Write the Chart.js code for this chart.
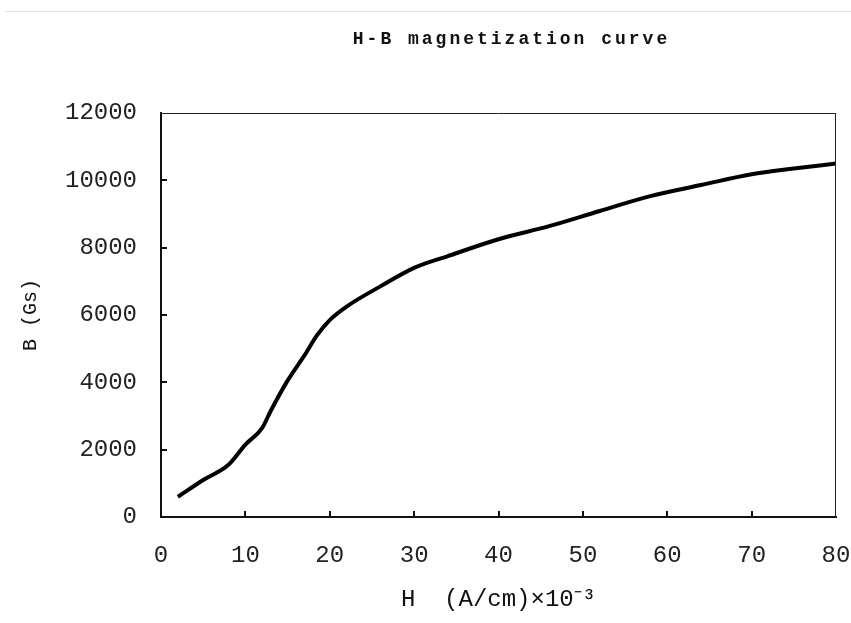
<!DOCTYPE html>
<html>
<head>
<meta charset="utf-8">
<script src="https://cdn.jsdelivr.net/npm/chart.js@4"></script>
<style>
  html, body { margin: 0; padding: 0; background: #fff; }
  #wrap { width: 851px; height: 623px; position: relative; }
</style>
</head>
<body>
<div id="wrap"><canvas id="hbChart" width="851" height="623"></canvas></div>
<script>
// H (A/cm x 10^-3) and B (Gs)
const hValues = [2, 5, 8, 10, 12, 13, 15, 17, 18.5, 20, 22, 26, 30, 34, 40, 46, 52, 58, 64, 70, 75, 80];
const bValues = [600, 1100, 1550, 2150, 2650, 3150, 4050, 4800, 5400, 5850, 6250, 6850, 7400, 7750, 8250, 8640, 9090, 9530, 9860, 10180, 10350, 10500];

const xTicks = [0, 10, 20, 30, 40, 50, 60, 70, 80];
const yTicks = [0, 2000, 4000, 6000, 8000, 10000, 12000];

const chartTitle = 'H-B magnetization curve';
const xTitle = 'H  (A/cm)\u00d710\u207b\u00b3';
const yTitle = 'B (Gs)';

const points = hValues.map(function(h, i){ return { x: h, y: bValues[i] }; });

// frame, inward ticks and title
const framePlugin = {
  id: 'frame',
  afterDraw(chart) {
    const ctx = chart.ctx;
    const a = chart.chartArea;
    const xs = chart.scales.x, ys = chart.scales.y;
    ctx.save();
    // faint page line at top
    ctx.strokeStyle = '#e2e2e2';
    ctx.lineWidth = 1;
    ctx.beginPath(); ctx.moveTo(5, 11.5); ctx.lineTo(851, 11.5); ctx.stroke();

    ctx.strokeStyle = '#222';
    ctx.lineWidth = 1;
    ctx.beginPath();
    ctx.moveTo(a.left, a.top + 0.5); ctx.lineTo(a.right, a.top + 0.5);
    ctx.moveTo(a.right - 0.5, a.top); ctx.lineTo(a.right - 0.5, a.bottom);
    ctx.stroke();

    ctx.strokeStyle = '#111';
    ctx.lineWidth = 2;
    ctx.beginPath();
    xTicks.slice(1, -1).forEach(function(v){
      const px = Math.round(xs.getPixelForValue(v));
      ctx.moveTo(px, a.bottom); ctx.lineTo(px, a.bottom - 6);
    });
    yTicks.slice(1, -1).forEach(function(v){
      const py = Math.round(ys.getPixelForValue(v));
      ctx.moveTo(a.left, py); ctx.lineTo(a.left + 6, py);
    });
    ctx.stroke();

    ctx.fillStyle = '#111';
    ctx.font = 'bold 18px "Liberation Mono"';
    if ('letterSpacing' in ctx) ctx.letterSpacing = '3px';
    ctx.textAlign = 'center';
    ctx.textBaseline = 'middle';
    ctx.fillText(chartTitle, (a.left + a.right) / 2 + 13, 39);
    ctx.restore();
  }
};

const ctx = document.getElementById('hbChart');
new Chart(ctx, {
  type: 'line',
  data: {
    datasets: [{
      label: 'B',
      data: points,
      borderColor: '#000',
      borderWidth: 4,
      pointRadius: 0,
      tension: 0.3,
      cubicInterpolationMode: 'monotone',
      fill: false
    }]
  },
  options: {
    responsive: false,
    animation: false,
    layout: { padding: { top: 113, right: 15, bottom: 0, left: 0 } },
    plugins: {
      legend: { display: false },
      tooltip: { enabled: false },
      title: { display: false }
    },
    scales: {
      x: {
        type: 'linear',
        min: 0, max: 80,
        afterFit: function(s){ s.height = 106; s.paddingLeft = 0; s.paddingRight = 0; },
        afterBuildTicks: function(s){ s.ticks = xTicks.map(function(v){ return { value: v }; }); },
        grid: { drawOnChartArea: false, drawTicks: false },
        border: { display: true, color: '#111', width: 2 },
        ticks: {
          padding: 24,
          color: '#222',
          font: { family: 'Liberation Mono', size: 24 },
          maxRotation: 0,
          callback: function(v){ return String(v); }
        },
        title: {
          display: true,
          text: xTitle,
          color: '#111',
          font: { family: 'Liberation Mono', size: 24 },
          padding: { top: 0, bottom: 9 }
        }
      },
      y: {
        min: 0, max: 12000,
        afterFit: function(s){ s.width = 161; s.paddingTop = 0; s.paddingBottom = 0; },
        afterBuildTicks: function(s){ s.ticks = yTicks.map(function(v){ return { value: v }; }); },
        grid: { drawOnChartArea: false, drawTicks: false },
        border: { display: true, color: '#111', width: 2 },
        ticks: {
          padding: 24,
          color: '#222',
          font: { family: 'Liberation Mono', size: 24 },
          callback: function(v){ return String(v); }
        },
        title: {
          display: true,
          text: yTitle,
          color: '#111',
          font: { family: 'Liberation Mono', size: 20 },
          padding: { top: 19, bottom: 0 }
        }
      }
    }
  },
  plugins: [framePlugin]
});
</script>
</body>
</html>
